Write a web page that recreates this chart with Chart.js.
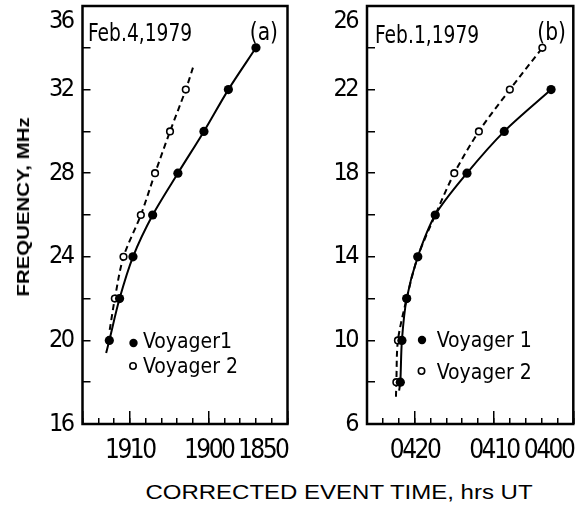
<!DOCTYPE html>
<html>
<head>
<meta charset="utf-8">
<title>Frequency drift, Voyager 1 and 2</title>
<script src="https://cdn.jsdelivr.net/npm/chart.js@4.4.1/dist/chart.umd.min.js"></script>
<style>
  html, body { margin: 0; padding: 0; background: #fff; }
  #wrap { position: relative; width: 588px; height: 511px; overflow: hidden; background: #fff; }
  canvas { position: absolute; top: 0; }
  #chartA { left: 0; }
  #chartB { left: 288px; }
  .ytitle, .xtitle { position: absolute; white-space: nowrap; color: #000; }
  .ytitle {
    left: 24px; top: 207px;
    font: bold 17px 'Liberation Sans', Arial, sans-serif;
    transform: translate(-50%, -50%) rotate(-90deg) scaleX(1.2);
  }
  .xtitle {
    left: 339px; top: 492px;
    font: 20px 'Liberation Sans', Arial, sans-serif;
    transform: translate(-50%, -50%) scaleX(1.2);
  }
</style>
</head>
<body>
<div id="wrap">
  <canvas id="chartA" width="300" height="480"></canvas>
  <canvas id="chartB" width="300" height="480"></canvas>
  <div class="ytitle">FREQUENCY, MHz</div>
  <div class="xtitle">CORRECTED EVENT TIME, hrs UT</div>
</div>
<script>
// time is kept as minutes after 18:50 UT (a) and after 04:00 UT (b);
// it is plotted negated so that earlier times sit to the right
const tickMinutes = [20, 10, 0];
const tickLabelsA = ['1910', '1900', '1850'];
const tickLabelsB = ['0420', '0410', '0400'];
const freqLabelsA = [16, 20, 24, 28, 32, 36];
const freqLabelsB = [6, 10, 14, 18, 22, 26];

// (a) Feb 4, 1979
const timesA_v1 = [22.6, 21.3, 19.6, 17.1, 13.9, 10.6, 7.5, 4.0];
const freqA_v1  = [20, 22, 24, 26, 28, 30, 32, 34];
const timesA_v2 = [21.9, 20.8, 18.6, 16.8, 14.9, 12.9];
const freqA_v2  = [22, 24, 26, 28, 30, 32];
// ends of the drawn curves beyond the measured points [minutes, MHz]
const tailA_v1 = { lo: [23.0, 19.4], hi: null };
const tailA_v2 = { lo: [22.55, 20.5], hi: [11.95, 33.1] };

// (b) Feb 1, 1979
const timesB_v1 = [21.8, 21.6, 21.0, 19.6, 17.4, 13.4, 8.7, 2.8];
const freqB_v1  = [8, 10, 12, 14, 16, 18, 20, 22];
const timesB_v2 = [22.3, 22.1, 21.0, 19.6, 17.4, 15.0, 11.9, 8.0, 3.9];
const freqB_v2  = [8, 10, 12, 14, 16, 18, 20, 22, 24];
const tailB_v1 = { lo: [21.95, 7.6], hi: null };
const tailB_v2 = { lo: [22.35, 7.3], hi: null };

const SPAN = 26; // minutes shown on each time axis
const FONT = "'DejaVu Sans Condensed', 'Liberation Sans', sans-serif";

function points(times, freqs) {
  return times.map((t, i) => ({ x: -t, y: freqs[i] }));
}

function curve(times, freqs, tail) {
  const pts = points(times, freqs);
  if (tail.lo) pts.unshift({ x: -tail.lo[0], y: tail.lo[1] });
  if (tail.hi) pts.push({ x: -tail.hi[0], y: tail.hi[1] });
  return pts;
}

// squeeze text sideways, the lettering on the plot is very narrow
function narrowText(ctx, text, x, y, align, squeeze) {
  ctx.save();
  ctx.translate(x, y);
  ctx.scale(squeeze, 1);
  ctx.textAlign = align;
  ctx.fillText(text, 0, 0);
  ctx.restore();
}

// frame, date, panel letter and the little key inside each panel
const panelText = {
  id: 'panelText',
  beforeDraw(chart) {
    // tick numbers are set tight
    chart.ctx.letterSpacing = '-2.5px';
  },
  beforeDatasetsDraw(chart) {
    chart.ctx.letterSpacing = '0px';
  },
  afterDraw(chart, args, o) {
    const { ctx, chartArea: a } = chart;
    ctx.save();
    ctx.strokeStyle = '#000';
    ctx.lineWidth = 2.5;
    ctx.strokeRect(a.left, a.top, a.right - a.left, a.bottom - a.top);

    ctx.fillStyle = '#000';
    ctx.textBaseline = 'middle';
    ctx.font = '25px ' + FONT;
    narrowText(ctx, o.date, a.left + o.dateX, a.top + o.dateY, 'left', 0.83);
    narrowText(ctx, o.tag, a.right - o.tagX, a.top + o.tagY, 'right', 0.9);

    ctx.font = '21px ' + FONT;
    ctx.textAlign = 'left';
    ctx.fillText(o.key[0], a.left + o.keyX, a.top + o.keyY[0]);
    ctx.fillText(o.key[1], a.left + o.keyX, a.top + o.keyY[1]);
    ctx.beginPath();
    ctx.arc(a.left + o.dotX, a.top + o.dotY[0], 4.2, 0, Math.PI * 2);
    ctx.fill();
    ctx.beginPath();
    ctx.lineWidth = 1.6;
    ctx.arc(a.left + o.dotX - 0.5, a.top + o.dotY[1], 3.2, 0, Math.PI * 2);
    ctx.stroke();
    ctx.restore();
  }
};

// tick marks point into the plot, hence the negative length
const tickGrid = len => ({
  drawOnChartArea: false, drawTicks: true, tickLength: -len, color: '#000', lineWidth: 1.5
});

function makeChart(id, d) {
  return new Chart(document.getElementById(id), {
    type: 'scatter',
    data: {
      datasets: [
        {
          label: 'Voyager 1',
          data: points(d.t1, d.f1),
          showLine: false,
          pointRadius: 4.6,
          pointBorderWidth: 0,
          pointBackgroundColor: '#000'
        },
        {
          label: 'Voyager 1 curve',
          data: curve(d.t1, d.f1, d.tail1),
          showLine: true,
          pointRadius: 0,
          borderColor: '#000',
          borderWidth: 2,
          tension: 0.3
        },
        {
          label: 'Voyager 2',
          data: points(d.t2, d.f2),
          showLine: false,
          pointRadius: 3.3,
          pointBorderWidth: 1.6,
          pointBorderColor: '#000',
          pointBackgroundColor: '#fff'
        },
        {
          label: 'Voyager 2 curve',
          data: curve(d.t2, d.f2, d.tail2),
          showLine: true,
          pointRadius: 0,
          borderColor: '#000',
          borderWidth: 2,
          borderDash: [6, 4],
          tension: 0.3
        }
      ]
    },
    options: {
      responsive: false,
      animation: false,
      events: [],
      layout: { padding: d.padding },
      scales: {
        x: {
          type: 'linear',
          min: -SPAN,
          max: 0,
          weight: 1,
          border: { display: false },
          grid: tickGrid(6),
          ticks: {
            stepSize: 2,
            autoSkip: false,
            maxRotation: 0,
            align: 'inner',
            padding: 18,
            color: '#000',
            font: { family: FONT, size: 26 },
            callback: v => {
              const i = tickMinutes.indexOf(-v);
              return i < 0 ? '' : d.xLabels[i];
            }
          },
          afterFit: s => {
            s.height = 50;
            s.paddingLeft = 0;
            s.paddingRight = 0;
          }
        },
        // longer marks at the labelled ten-minute times
        xMajor: {
          type: 'linear',
          axis: 'x',
          position: 'bottom',
          min: -SPAN,
          max: 0,
          weight: 0,
          border: { display: false },
          grid: tickGrid(13),
          ticks: { display: false, stepSize: 10 },
          afterFit: s => {
            s.height = 0;
            s.paddingLeft = 0;
            s.paddingRight = 0;
          }
        },
        y: {
          type: 'linear',
          min: d.yMin,
          max: d.yMax,
          border: { display: false },
          grid: tickGrid(8),
          ticks: {
            stepSize: 2,
            autoSkip: false,
            padding: 18,
            color: '#000',
            font: { family: FONT, size: 25 },
            callback: v => {
              if (!d.yLabels.includes(v)) return '';
              return v === d.yMax ? ['', String(v)] : String(v);
            }
          },
          afterFit: s => {
            s.width = 40;
            s.paddingTop = 0;
            s.paddingBottom = 0;
          }
        }
      },
      plugins: {
        legend: { display: false },
        tooltip: { enabled: false },
        panelText: d.text
      }
    },
    plugins: [panelText]
  });
}

makeChart('chartA', {
  t1: timesA_v1, f1: freqA_v1, tail1: tailA_v1,
  t2: timesA_v2, f2: freqA_v2, tail2: tailA_v2,
  yMin: 16, yMax: 36, yLabels: freqLabelsA, xLabels: tickLabelsA,
  padding: { left: 42.5, right: 12.5, top: 6, bottom: 6 },
  text: {
    date: 'Feb.4,1979', dateX: 5.5, dateY: 28,
    tag: '(a)', tagX: 9.5, tagY: 27,
    key: ['Voyager1', 'Voyager 2'], keyX: 60.5, keyY: [336.5, 361.5],
    dotX: 51, dotY: [337, 360]
  }
});

makeChart('chartB', {
  t1: timesB_v1, f1: freqB_v1, tail1: tailB_v1,
  t2: timesB_v2, f2: freqB_v2, tail2: tailB_v2,
  yMin: 6, yMax: 26, yLabels: freqLabelsB, xLabels: tickLabelsB,
  padding: { left: 39, right: 14.7, top: 6, bottom: 6 },
  text: {
    date: 'Feb.1,1979', dateX: 8, dateY: 30,
    tag: '(b)', tagX: 7.3, tagY: 27,
    key: ['Voyager 1', 'Voyager 2'], keyX: 69.7, keyY: [336, 368],
    dotX: 55, dotY: [334, 365]
  }
});
</script>
</body>
</html>
